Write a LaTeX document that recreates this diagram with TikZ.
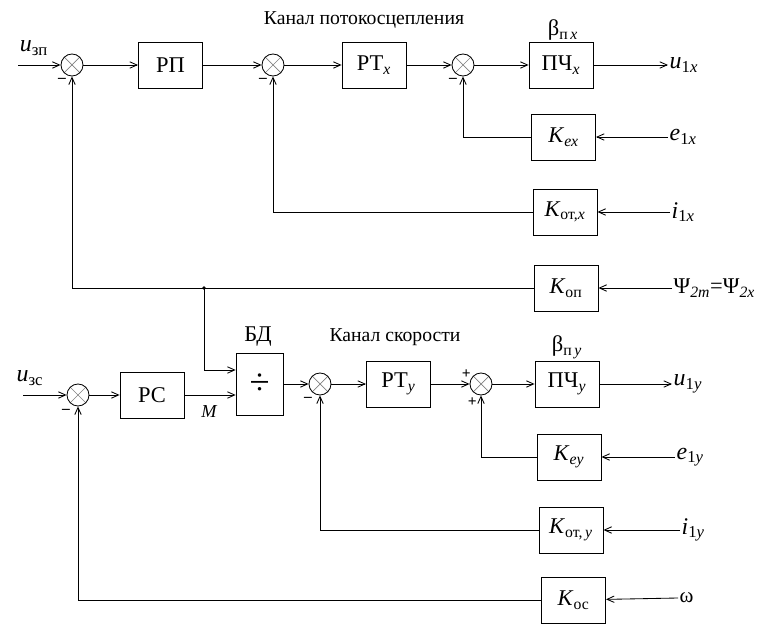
\documentclass[tikz,border=0pt]{standalone}
\usepackage{fontspec}
\setmainfont{Liberation Serif}
\usetikzlibrary{arrows.meta, positioning}
\newcommand{\sbs}[1]{\textsubscript{#1}}
\tikzset{
  blk/.style={draw, line width=0.6pt, minimum width=1.6cm, minimum height=1.15cm,
              font=\fontsize{16}{18}\selectfont, inner sep=1pt},
  sumnode/.style={circle, draw, line width=0.6pt, minimum size=0.55cm, inner sep=0pt,
              path picture={\draw[black!50, line width=0.5pt]
                (path picture bounding box.north west) -- (path picture bounding box.south east)
                (path picture bounding box.north east) -- (path picture bounding box.south west);}},
  sig/.style={font=\fontsize{17}{19}\selectfont, inner sep=1pt, anchor=west},
  ttl/.style={font=\fontsize{14}{16}\selectfont, inner sep=0pt},
  sgn/.style={font=\fontsize{11}{11}\selectfont\bfseries, inner sep=0pt},
  arr/.style={-{Straight Barb[length=1.8mm,width=1.6mm]}, line width=0.6pt},
}
\begin{document}
\begin{tikzpicture}
  \useasboundingbox (0,0) rectangle (19.025,-15.6);
  % flux channel
  \node[ttl] (chx) at (9.1,-0.5) {Канал потокосцепления};
  \node[sig, anchor=center] (uzp) at (0.85,-1.2) {\textit{u}\sbs{зп}};
  \coordinate (inx) at (0.45,-1.625);
  \node[sumnode] (s1) at (1.8,-1.625) {};
  \node[blk] (rp) at (4.26,-1.625) {РП};
  \node[sumnode] (s2) at (6.825,-1.625) {};
  \node[blk] (rtx) at (9.35,-1.625) {РТ\sbs{\textit{x}}};
  \node[sumnode] (s3) at (11.575,-1.625) {};
  \node[blk] (pchx) at (14.025,-1.625) {ПЧ\sbs{\textit{x}}};
  \node[ttl, font=\fontsize{16}{18}\selectfont] (bx) at (14.075,-0.75) {β\sbs{п\,\textit{x}}};
  \node[sig] (u1x) at (16.7,-1.625) {\textit{u}\sbs{1\textit{x}}};
  \node[blk] (kex) at (14.09,-3.425) {\textit{K}\sbs{\textit{ex}}};
  \node[sig] (e1x) at (16.7,-3.425) {\textit{e}\sbs{1\textit{x}}};
  \node[blk] (kotx) at (14.125,-5.3) {\textit{K}\sbs{от,\textit{x}}};
  \node[sig] (i1x) at (16.75,-5.3) {\textit{i}\sbs{1\textit{x}}};
  \node[blk] (kop) at (14.15,-7.2) {\textit{K}\sbs{оп}};
  \node[sig, font=\fontsize{16}{18}\selectfont] (psi) at (16.8,-7.2)
       {Ψ\sbs{\textit{2m}}=Ψ\sbs{\textit{2x}}};
  \node[sgn] (m1) at ([shift={(-0.25,-0.38)}]s1) {–};
  \node[sgn] (m2) at ([shift={(-0.25,-0.38)}]s2) {–};
  \node[sgn] (m3) at ([shift={(-0.25,-0.38)}]s3) {–};
  % speed channel
  \node[ttl] (chy) at (9.875,-8.425) {Канал скорости};
  \node[ttl, font=\fontsize{16}{18}\selectfont] (bdl) at (6.45,-8.425) {БД};
  \node[sig, anchor=center] (uzc) at (0.75,-9.45) {\textit{u}\sbs{зс}};
  \coordinate (iny) at (0.575,-9.875);
  \node[sumnode] (s4) at (1.95,-9.875) {};
  \node[blk] (rs) at (3.8,-9.875) {РС};
  \node[ttl, font=\fontsize{13}{15}\selectfont\itshape] (mm) at (5.225,-10.3) {M};
  \node[blk, minimum width=1.175cm, minimum height=1.55cm, font=\fontsize{26}{26}\selectfont]
       (bd) at (6.49,-9.6) {÷};
  \node[sumnode] (s5) at (8.0,-9.6) {};
  \node[blk] (rty) at (9.96,-9.6) {РТ\sbs{\textit{y}}};
  \node[sumnode] (s6) at (12.025,-9.6) {};
  \node[blk] (pchy) at (14.175,-9.6) {ПЧ\sbs{\textit{y}}};
  \node[ttl, font=\fontsize{16}{18}\selectfont] (by) at (14.175,-8.675) {β\sbs{п\,\textit{y}}};
  \node[sig] (u1y) at (16.8,-9.6) {\textit{u}\sbs{1\textit{y}}};
  \node[blk] (key) at (14.225,-11.425) {\textit{K}\sbs{\textit{ey}}};
  \node[sig] (e1y) at (16.875,-11.425) {\textit{e}\sbs{1\textit{y}}};
  \node[blk] (koty) at (14.275,-13.25) {\textit{K}\sbs{от,\,\textit{y}}};
  \node[sig] (i1y) at (17.0,-13.25) {\textit{i}\sbs{1\textit{y}}};
  \node[blk] (kos) at (14.34,-15.0) {\textit{K}\sbs{ос}};
  \node[sig, font=\fontsize{15}{17}\selectfont] (om) at (16.95,-14.95) {ω};
  \node[sgn] (m4) at ([shift={(-0.3,-0.42)}]s4) {–};
  \node[sgn] (m5) at ([shift={(-0.3,-0.38)}]s5) {–};
  \node[sgn] (p1) at ([shift={(-0.37,0.25)}]s6) {+};
  \node[sgn] (p2) at ([shift={(-0.22,-0.45)}]s6) {+};
  \coordinate (jn) at (5.1,-7.2);
  % forward paths
  \draw[arr] (inx) -- (s1);
  \draw[arr] (s1) -- (rp);
  \draw[arr] (rp) -- (s2);
  \draw[arr] (s2) -- (rtx);
  \draw[arr] (rtx) -- (s3);
  \draw[arr] (s3) -- (pchx);
  \draw[arr] (pchx) -- (u1x.west);
  \draw[arr] (iny) -- (s4);
  \draw[arr] (s4) -- (rs);
  \draw[arr] (rs.east) -- (rs.east -| bd.west);
  \draw[arr] (bd) -- (s5);
  \draw[arr] (s5) -- (rty);
  \draw[arr] (rty) -- (s6);
  \draw[arr] (s6) -- (pchy);
  \draw[arr] (pchy) -- (u1y.west);
  % feedback paths
  \draw[arr] (e1x.west) -- (kex);
  \draw[arr] (kex) -| (s3);
  \draw[arr] (i1x.west) -- (kotx);
  \draw[arr] (kotx) -| (s2);
  \draw[arr] (psi.west) -- (kop);
  \draw[arr] (kop) -| (s1);
  \fill (jn) circle (1.3pt);
  \draw[arr] (jn) |- ([yshift=0.35cm]bd.west);
  \draw[arr] (e1y.west) -- (key);
  \draw[arr] (key) -| (s6);
  \draw[arr] (i1y.west) -- (koty);
  \draw[arr] (koty) -| (s5);
  \draw[arr] (om.west) -- (kos);
  \draw[arr] (kos) -| (s4);
\end{tikzpicture}
\end{document}
